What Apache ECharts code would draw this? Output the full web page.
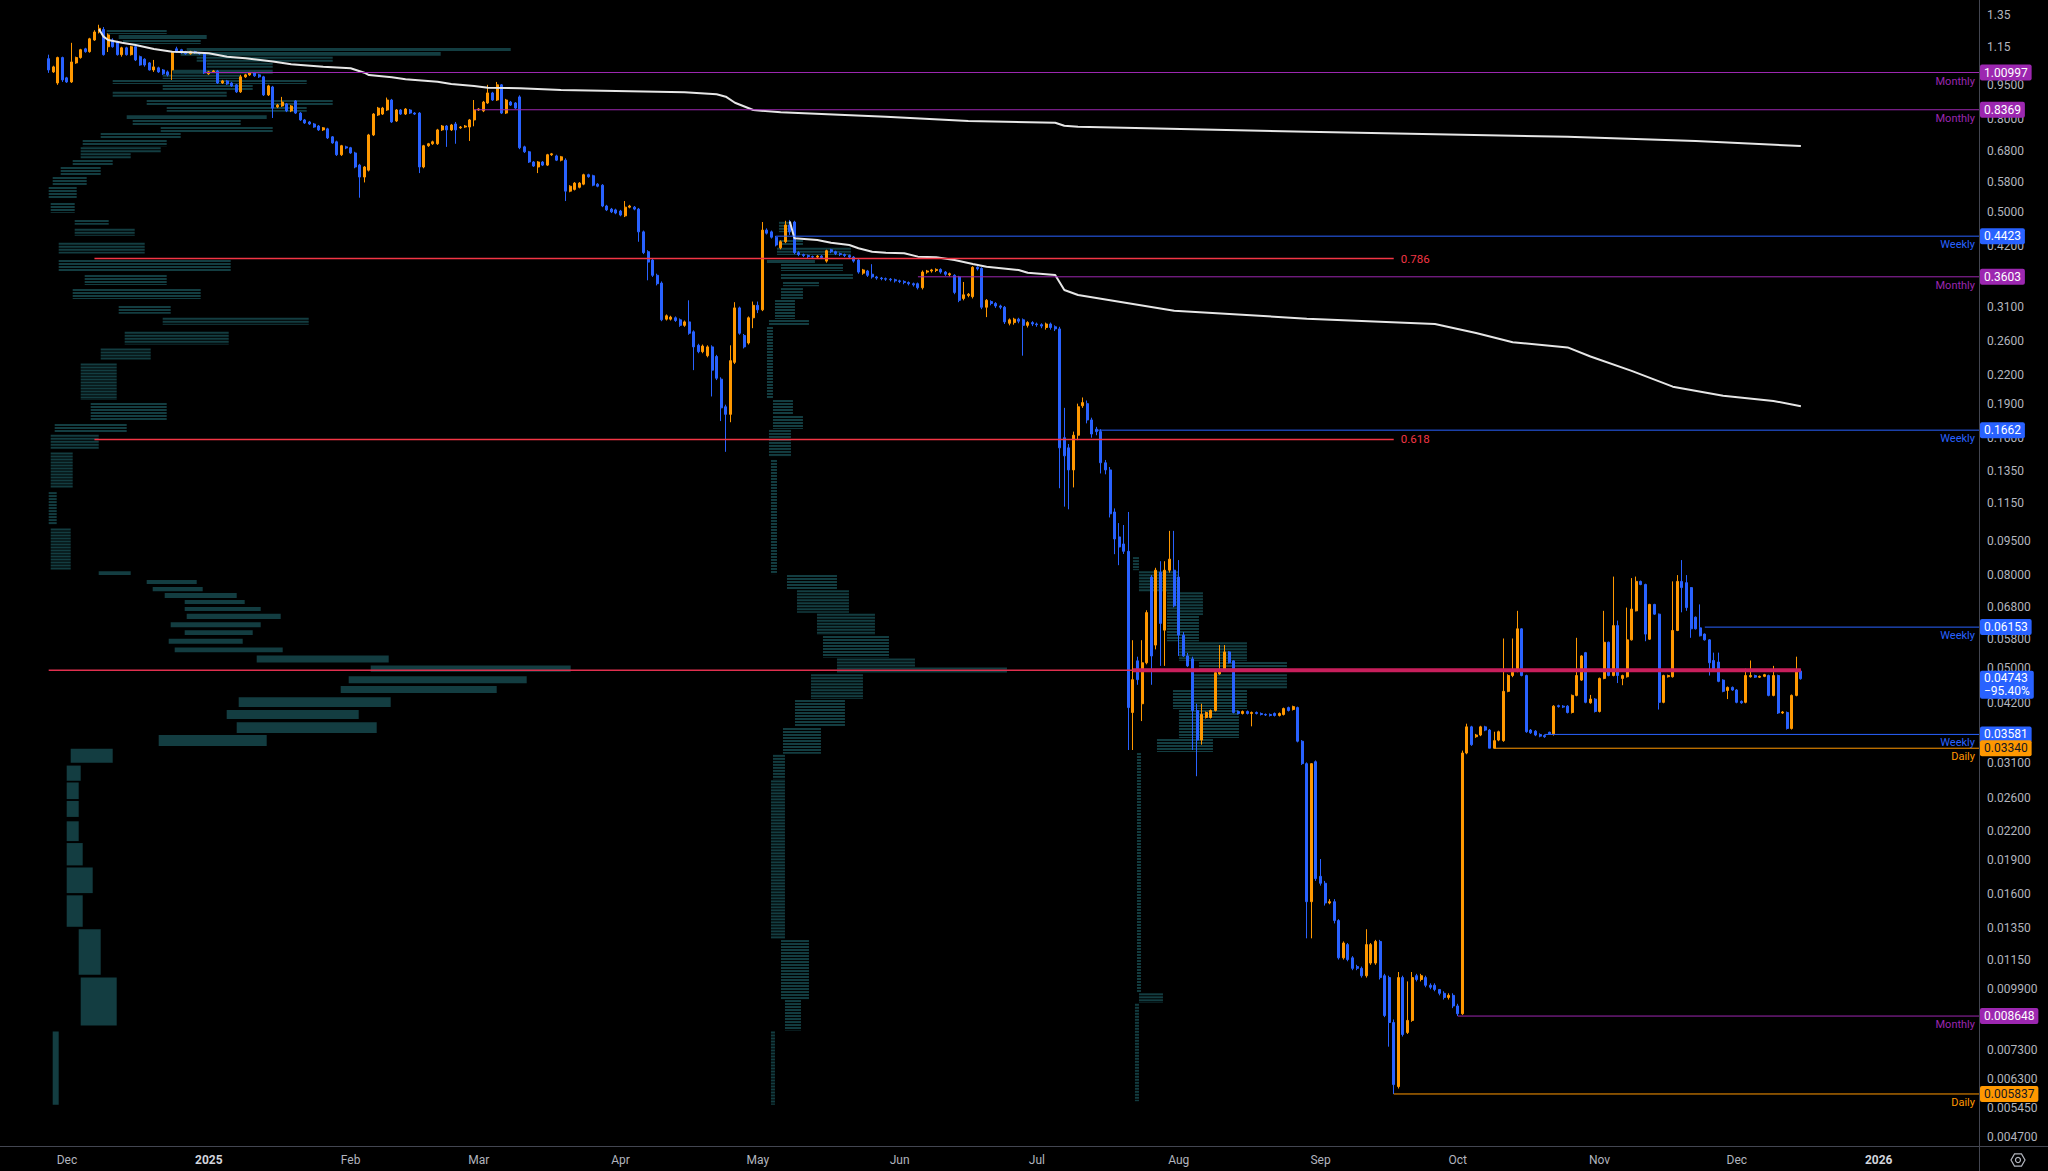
<!DOCTYPE html>
<html><head><meta charset="utf-8">
<script src="https://cdn.jsdelivr.net/npm/echarts@6/dist/echarts.min.js"></script>
<style>html,body{margin:0;padding:0;background:#000;}#chart{width:2048px;height:1171px;}</style>
</head><body><div id="chart"></div>
<script>
// ---------------- DATA ----------------
const FIRST_CANDLE = '2024-11-27';
// daily candles [open, close, low, high]
const ohlc = [
[1.083,1.023,1.008,1.105],[1.013,1.039,1.008,1.045],[0.958,1.089,0.949,1.094],[1.089,0.973,0.963,1.094],[0.983,0.963,0.958,0.988],[0.963,1.065,0.958,1.173],[1.060,1.089,1.055,1.094],[1.089,1.133,1.083,1.138],[1.138,1.122,1.116,1.144],[1.122,1.197,1.116,1.203],
[1.19,1.239,1.185,1.25],[1.239,1.262,1.23,1.285],[1.255,1.105,1.10,1.27],[1.15,1.221,1.12,1.23],[1.19,1.15,1.145,1.20],[1.18,1.105,1.10,1.185],[1.105,1.144,1.094,1.15],[1.144,1.105,1.10,1.15],[1.105,1.150,1.10,1.155],[1.150,1.076,1.07,1.155],
[1.094,1.049,1.045,1.10],[1.08,1.049,1.04,1.085],[1.060,1.023,1.02,1.065],[1.023,1.039,1.013,1.076],[1.034,1.013,1.008,1.04],[1.023,1.003,0.998,1.028],[1.013,0.998,0.99,1.02],[1.023,1.116,0.973,1.122],[1.138,1.122,1.116,1.15],[1.133,1.116,1.11,1.138],
[1.122,1.11,1.105,1.127],[1.11,1.122,1.105,1.127],[1.122,1.116,1.11,1.127],[1.116,1.11,1.105,1.12],[1.116,1.008,1.003,1.12],[1.003,1.013,0.998,1.018],[1.013,1.018,1.008,1.023],[1.018,0.958,0.953,1.023],[0.958,0.968,0.953,0.973],[0.968,0.953,0.949,0.973],
[0.958,0.944,0.939,0.963],[0.949,0.916,0.911,0.953],[0.916,0.988,0.911,0.998],[0.988,0.998,0.983,1.003],[0.998,1.008,0.993,1.013],[1.008,0.993,0.988,1.013],[0.998,0.988,0.983,1.003],[0.988,0.902,0.897,0.993],[0.902,0.944,0.897,0.949],[0.939,0.844,0.803,0.944],
[0.849,0.857,0.844,0.862],[0.853,0.870,0.849,0.893],[0.862,0.832,0.827,0.866],[0.832,0.853,0.827,0.857],[0.875,0.823,0.819,0.879],[0.823,0.795,0.791,0.827],[0.795,0.783,0.779,0.799],[0.787,0.779,0.775,0.791],[0.779,0.767,0.764,0.783],[0.771,0.756,0.752,0.775],
[0.756,0.764,0.752,0.767],[0.760,0.726,0.722,0.764],[0.730,0.708,0.705,0.733],[0.712,0.667,0.663,0.716],[0.667,0.698,0.663,0.701],[0.694,0.69,0.686,0.698],[0.691,0.673,0.67,0.694],[0.673,0.627,0.623,0.677],[0.633,0.596,0.537,0.637],[0.596,0.627,0.58,0.63],
[0.617,0.737,0.613,0.741],[0.737,0.819,0.733,0.823],[0.815,0.844,0.811,0.849],[0.819,0.844,0.815,0.849],[0.836,0.879,0.832,0.89],[0.879,0.787,0.783,0.884],[0.791,0.836,0.787,0.84],[0.836,0.819,0.815,0.84],[0.819,0.840,0.815,0.844],[0.836,0.823,0.819,0.84],
[0.823,0.819,0.815,0.827],[0.823,0.627,0.608,0.827],[0.627,0.698,0.623,0.701],[0.698,0.705,0.694,0.708],[0.705,0.712,0.701,0.716],[0.705,0.756,0.701,0.76],[0.756,0.771,0.752,0.775],[0.771,0.756,0.694,0.775],[0.756,0.775,0.752,0.779],[0.779,0.756,0.705,0.787],
[0.764,0.767,0.76,0.771],[0.767,0.771,0.764,0.775],[0.767,0.795,0.715,0.799],[0.795,0.836,0.77,0.879],[0.836,0.840,0.832,0.844],[0.832,0.870,0.827,0.875],[0.866,0.911,0.862,0.949],[0.911,0.879,0.875,0.916],[0.879,0.949,0.875,0.963],[0.949,0.823,0.819,0.953],
[0.823,0.879,0.819,0.884],[0.870,0.857,0.853,0.875],[0.866,0.844,0.84,0.87],[0.893,0.691,0.686,0.90],[0.694,0.677,0.673,0.698],[0.677,0.643,0.64,0.68],[0.643,0.630,0.627,0.646],[0.627,0.643,0.608,0.646],[0.643,0.633,0.63,0.646],[0.633,0.667,0.63,0.67],
[0.667,0.670,0.663,0.673],[0.663,0.649,0.646,0.667],[0.649,0.66,0.645,0.663],[0.649,0.555,0.528,0.655],[0.555,0.569,0.552,0.572],[0.560,0.578,0.557,0.581],[0.566,0.578,0.563,0.581],[0.575,0.603,0.572,0.606],[0.603,0.597,0.594,0.606],[0.600,0.572,0.569,0.603],
[0.575,0.569,0.566,0.578],[0.572,0.515,0.512,0.575],[0.515,0.505,0.502,0.518],[0.507,0.50,0.497,0.51],[0.505,0.497,0.494,0.508],[0.502,0.492,0.489,0.505],[0.490,0.512,0.487,0.528],[0.512,0.515,0.509,0.518],[0.512,0.507,0.504,0.515],[0.507,0.452,0.430,0.51],
[0.452,0.407,0.404,0.455],[0.409,0.388,0.354,0.412],[0.392,0.363,0.36,0.395],[0.363,0.348,0.345,0.366],[0.349,0.290,0.288,0.352],[0.291,0.296,0.289,0.298],[0.291,0.294,0.289,0.296],[0.293,0.289,0.287,0.295],[0.290,0.282,0.28,0.292],[0.282,0.287,0.28,0.289],
[0.287,0.271,0.269,0.320],[0.273,0.253,0.225,0.275],[0.255,0.247,0.245,0.257],[0.247,0.254,0.245,0.256],[0.242,0.253,0.24,0.255],[0.253,0.225,0.197,0.255],[0.241,0.216,0.214,0.243],[0.215,0.186,0.174,0.217],[0.187,0.180,0.149,0.189],[0.180,0.236,0.173,0.255],
[0.234,0.308,0.232,0.317],[0.308,0.271,0.269,0.31],[0.268,0.253,0.251,0.27],[0.258,0.293,0.256,0.295],[0.293,0.312,0.278,0.318],[0.312,0.305,0.30,0.318],[0.305,0.456,0.303,0.475],[0.456,0.449,0.446,0.46],[0.452,0.440,0.437,0.455],[0.440,0.423,0.42,0.443],
[0.417,0.430,0.414,0.433],[0.430,0.468,0.427,0.478],[0.468,0.452,0.445,0.48],[0.475,0.407,0.404,0.478],[0.407,0.403,0.40,0.41],[0.403,0.401,0.398,0.405],[0.401,0.399,0.396,0.403],[0.399,0.398,0.395,0.401],[0.398,0.400,0.395,0.402],[0.400,0.397,0.394,0.402],
[0.390,0.411,0.387,0.413],[0.413,0.409,0.406,0.415],[0.409,0.405,0.402,0.411],[0.405,0.403,0.40,0.407],[0.403,0.401,0.398,0.405],[0.401,0.398,0.395,0.403],[0.398,0.390,0.387,0.40],[0.392,0.369,0.366,0.394],[0.367,0.373,0.364,0.375],[0.371,0.363,0.36,0.373],
[0.365,0.360,0.357,0.384],[0.360,0.358,0.355,0.362],[0.358,0.357,0.354,0.36],[0.357,0.356,0.353,0.359],[0.356,0.355,0.352,0.358],[0.355,0.353,0.35,0.357],[0.353,0.352,0.349,0.355],[0.352,0.350,0.347,0.354],[0.350,0.348,0.345,0.352],[0.348,0.346,0.343,0.35],
[0.348,0.341,0.338,0.35],[0.341,0.369,0.338,0.372],[0.369,0.371,0.366,0.373],[0.371,0.373,0.368,0.375],[0.372,0.374,0.369,0.376],[0.374,0.369,0.366,0.376],[0.369,0.365,0.362,0.371],[0.364,0.366,0.361,0.368],[0.363,0.333,0.33,0.365],[0.36,0.320,0.317,0.362],
[0.323,0.329,0.32,0.351],[0.328,0.33,0.325,0.332],[0.326,0.378,0.323,0.38],[0.378,0.375,0.372,0.38],[0.376,0.309,0.306,0.378],[0.309,0.320,0.294,0.322],[0.318,0.315,0.312,0.32],[0.315,0.311,0.308,0.317],[0.311,0.309,0.306,0.313],[0.309,0.287,0.284,0.311],
[0.285,0.29,0.282,0.292],[0.286,0.291,0.283,0.293],[0.291,0.288,0.285,0.293],[0.29,0.282,0.242,0.292],[0.282,0.286,0.279,0.288],[0.286,0.284,0.281,0.288],[0.284,0.283,0.28,0.286],[0.283,0.281,0.278,0.285],[0.279,0.284,0.276,0.286],[0.284,0.279,0.276,0.286],
[0.280,0.277,0.274,0.282],[0.277,0.152,0.124,0.280],[0.160,0.146,0.113,0.186],[0.152,0.136,0.1115,0.155],[0.136,0.162,0.1245,0.165],[0.162,0.187,0.158,0.19],[0.188,0.191,0.186,0.196],[0.190,0.175,0.172,0.193],[0.175,0.163,0.16,0.177],[0.167,0.165,0.162,0.169],
[0.165,0.141,0.1336,0.167],[0.141,0.136,0.133,0.143],[0.136,0.109,0.107,0.138],[0.110,0.096,0.0889,0.112],[0.097,0.0922,0.0841,0.104],[0.0936,0.0902,0.089,0.103],[0.0902,0.041,0.0331,0.110],[0.040,0.0472,0.0331,0.0576],[0.0519,0.0472,0.046,0.053],[0.0418,0.0514,0.0383,0.0576],
[0.0514,0.0662,0.051,0.067],[0.0792,0.0532,0.046,0.08],[0.0562,0.082,0.055,0.083],[0.0812,0.0627,0.0506,0.0858],[0.0606,0.082,0.0506,0.0858],[0.082,0.0867,0.081,0.1],[0.082,0.0685,0.068,0.1],[0.0792,0.0591,0.0532,0.0863],[0.0591,0.0532,0.053,0.06],[0.0532,0.0506,0.0503,0.054],
[0.0524,0.0404,0.0331,0.053],[0.0404,0.0348,0.029,0.0418],[0.0348,0.0396,0.034,0.0418],[0.039,0.040,0.0388,0.0402],[0.039,0.0404,0.0388,0.0406],[0.0404,0.0489,0.0402,0.049],[0.0486,0.0494,0.0484,0.0562],[0.0494,0.0543,0.0492,0.0562],[0.0543,0.0514,0.0512,0.0545],[0.0519,0.040,0.0398,0.052],
[0.0402,0.0398,0.0396,0.0404],[0.0398,0.0402,0.0396,0.0404],[0.0402,0.0398,0.0396,0.0404],[0.0398,0.0400,0.0373,0.0402],[0.0400,0.0398,0.0396,0.0402],[0.0398,0.0396,0.0394,0.04],[0.0396,0.0395,0.0393,0.0398],[0.0396,0.0394,0.0392,0.0398],[0.0398,0.0394,0.0392,0.04],[0.0394,0.0398,0.0392,0.04],
[0.0396,0.0408,0.0394,0.041],[0.041,0.0404,0.0402,0.0412],[0.0406,0.0412,0.0404,0.0414],[0.041,0.0346,0.0344,0.0412],[0.0346,0.0309,0.0307,0.0348],[0.0309,0.0154,0.0128,0.0311],[0.0154,0.0309,0.0128,0.031],[0.0312,0.0173,0.0171,0.0314],[0.0175,0.0169,0.0167,0.0191],[0.0169,0.0153,0.0151,0.0171],
[0.0153,0.0154,0.0152,0.0156],[0.0154,0.014,0.0138,0.0156],[0.014,0.0116,0.0115,0.0141],[0.0116,0.0125,0.0115,0.0126],[0.0124,0.0115,0.0114,0.0125],[0.0116,0.011,0.0109,0.0117],[0.0111,0.011,0.0109,0.0112],[0.011,0.0106,0.0105,0.0111],[0.0106,0.0124,0.0105,0.0134],[0.0113,0.0124,0.0112,0.0125],
[0.0113,0.0126,0.0112,0.0127],[0.0126,0.0105,0.0104,0.0127],[0.0106,0.00867,0.0086,0.0107],[0.0105,0.00837,0.00741,0.0106],[0.00837,0.00612,0.005837,0.0085],[0.00606,0.0105,0.006,0.0108],[0.0105,0.00788,0.0078,0.0106],[0.00796,0.00846,0.0079,0.0103],[0.00846,0.0105,0.0084,0.0108],[0.0106,0.0104,0.0103,0.0107],
[0.0104,0.0106,0.0103,0.0107],[0.0105,0.0101,0.01,0.0106],[0.0101,0.0100,0.0099,0.0102],[0.0101,0.00989,0.0098,0.0102],[0.00989,0.0097,0.0096,0.0099],[0.0097,0.0095,0.0094,0.0098],[0.0095,0.0096,0.0094,0.0097],[0.0096,0.0091,0.009,0.0097],[0.0091,0.00875,0.008648,0.0092],[0.00875,0.0326,0.0087,0.033],
[0.0326,0.0372,0.0324,0.0378],[0.0372,0.034,0.0338,0.0374],[0.0354,0.0357,0.0352,0.0359],[0.0357,0.0372,0.0355,0.0374],[0.0372,0.0366,0.0364,0.0374],[0.0366,0.0334,0.0334,0.0368],[0.0334,0.0347,0.0334,0.0363],[0.0348,0.0363,0.0346,0.0365],[0.0347,0.0445,0.0345,0.0581],[0.0445,0.0482,0.0443,0.0485],
[0.0482,0.049,0.0478,0.0581],[0.0493,0.061,0.049,0.0668],[0.061,0.0482,0.048,0.0612],[0.0482,0.0363,0.0361,0.0484],[0.0366,0.0361,0.0359,0.0368],[0.0364,0.0357,0.0355,0.0366],[0.0358,0.0355,0.0353,0.036],[0.0356,0.0354,0.0352,0.0358],[0.0362,0.0359,0.03581,0.0363],[0.0359,0.0413,0.0356,0.0415],
[0.0414,0.0412,0.041,0.0416],[0.0413,0.0411,0.0409,0.0415],[0.0413,0.040,0.0398,0.0415],[0.040,0.0436,0.0398,0.0438],[0.0436,0.0482,0.0434,0.0583],[0.0471,0.0532,0.0469,0.0534],[0.0541,0.0421,0.0419,0.0543],[0.042,0.0428,0.0418,0.0437],[0.0428,0.0402,0.04,0.043],[0.0402,0.0475,0.04,0.0477],
[0.0475,0.057,0.0473,0.0668],[0.057,0.0482,0.048,0.0572],[0.0482,0.062,0.048,0.0794],[0.062,0.0482,0.0464,0.0636],[0.0475,0.0482,0.0459,0.0484],[0.0479,0.0577,0.0477,0.0679],[0.0577,0.0674,0.0575,0.0788],[0.0668,0.0775,0.0666,0.0794],[0.0775,0.0763,0.076,0.0778],[0.0763,0.0594,0.0573,0.0766],
[0.0579,0.069,0.0577,0.0692],[0.069,0.0657,0.0655,0.0692],[0.0657,0.0421,0.0406,0.0659],[0.0421,0.0482,0.0419,0.0484],[0.0479,0.0482,0.0477,0.0484],[0.0479,0.0605,0.0477,0.0775],[0.0605,0.0775,0.0603,0.080],[0.0775,0.0751,0.0663,0.0863],[0.077,0.0679,0.0668,0.080],[0.0751,0.061,0.0583,0.0753],
[0.0647,0.061,0.0608,0.0649],[0.0613,0.0589,0.0587,0.069],[0.0594,0.0577,0.0575,0.0596],[0.0577,0.0514,0.0482,0.0579],[0.052,0.0493,0.0491,0.0541],[0.0516,0.0468,0.0466,0.0541],[0.0471,0.0445,0.0443,0.0473],[0.0447,0.0454,0.0428,0.0456],[0.0454,0.0448,0.0446,0.0456],[0.0448,0.0421,0.0419,0.045],
[0.0423,0.042,0.0418,0.0425],[0.0421,0.0482,0.0419,0.0499],[0.0479,0.0482,0.0477,0.052],[0.0482,0.0478,0.0476,0.0484],[0.0478,0.048,0.0476,0.0482],[0.048,0.0484,0.0478,0.0486],[0.0482,0.0436,0.0434,0.0484],[0.0436,0.0482,0.0434,0.0506],[0.0482,0.0399,0.0397,0.0484],[0.0399,0.0401,0.0397,0.0403],
[0.040,0.0369,0.0367,0.0402],[0.0369,0.0436,0.0367,0.0438],[0.0436,0.0493,0.0434,0.053],[0.0493,0.04743,0.0472,0.0495]
];

// anchored VWAP lines
const vwap1Dates = ['2024-12-08','2024-12-09','2024-12-10','2024-12-13','2024-12-16','2024-12-20','2024-12-24','2024-12-28','2025-01-01','2025-01-05','2025-01-09','2025-01-15','2025-01-19','2025-01-26','2025-02-01','2025-02-04','2025-02-05','2025-02-10','2025-02-13','2025-02-20','2025-02-23','2025-02-28','2025-03-03','2025-03-10','2025-03-19','2025-04-15','2025-04-22','2025-04-24','2025-04-26','2025-04-30','2025-05-06','2025-05-29','2025-06-16','2025-07-05','2025-07-07','2025-07-10','2025-08-29','2025-10-25','2025-11-22','2025-12-15'];
const vwap1Values = [1.256,1.210,1.190,1.174,1.160,1.137,1.122,1.118,1.113,1.094,1.085,1.067,1.053,1.040,1.032,1.009,0.997,0.986,0.976,0.964,0.953,0.943,0.935,0.933,0.925,0.914,0.905,0.894,0.867,0.836,0.826,0.808,0.791,0.784,0.772,0.768,0.749,0.730,0.715,0.697];
const vwap2Dates = ['2025-05-08','2025-05-09','2025-05-14','2025-05-17','2025-05-21','2025-05-23','2025-05-26','2025-05-29','2025-06-02','2025-06-05','2025-06-09','2025-06-13','2025-06-17','2025-06-20','2025-06-27','2025-06-29','2025-07-05','2025-07-07','2025-07-10','2025-07-31','2025-08-29','2025-09-26','2025-10-05','2025-10-13','2025-10-25','2025-10-30','2025-11-08','2025-11-17','2025-11-28','2025-12-09','2025-12-15'];
const vwap2Values = [0.476,0.4375,0.4337,0.4279,0.4231,0.4161,0.4090,0.4070,0.4058,0.3989,0.3977,0.3923,0.3844,0.3792,0.3729,0.3678,0.3636,0.3371,0.3287,0.3035,0.2917,0.2840,0.2713,0.2590,0.2523,0.2410,0.2242,0.2070,0.1978,0.1926,0.1875];

// horizontal key levels (ray from start date to the right edge)
const levelValues = [1.00997, 0.8369, 0.4423, 0.3603, 0.1662, 0.06153, 0.03581, 0.03340, 0.008648, 0.005837];
const levelTags   = ['1.00997','0.8369','0.4423','0.3603','0.1662','0.06153','0.03581','0.03340','0.008648','0.005837'];
const levelStarts = ['2024-12-31','2025-02-28','2025-05-05','2025-06-05','2025-07-14','2025-11-24','2025-10-20','2025-10-09','2025-10-01','2025-09-17'];
const levelKinds  = ['Monthly','Monthly','Weekly','Monthly','Weekly','Weekly','Weekly','Daily','Monthly','Daily'];

// fibonacci retracement lines
const fibValues = [0.395, 0.1586];
const fibNames = ['0.786', '0.618'];
const fibStart = '2024-12-07', fibEnd = '2025-09-17';

// point of control line
const pocValue = 0.0495;
const pocStart = '2024-11-27', pocThickStart = '2025-07-22', pocEnd = '2025-12-15';

// last price
const lastPrice = 0.04743, lastPriceText = '0.04743', lastChangeText = '\u221295.40%';

// volume profiles: [priceTop, priceBottom, volumeStart, volumeEnd]
const profile1Anchor = '2024-11-27';
const profile1Rows = [
[1.2515,1.220,29,59],[1.220,1.190,35,79],[1.190,1.160,37,76],[1.143,1.120,69,231],[1.120,1.093,66,196],[1.093,1.061,74,142],[1.061,1.024,79,112],[1.024,0.999,62,112],[0.999,0.9725,57,96],[0.9725,0.948,32,129],[0.948,0.916,57,102],[0.916,0.888,32,89],[0.879,0.849,49,142],[0.849,0.824,59,129],[0.814,0.7947,39,109],[0.7947,0.767,42,96],[0.767,0.744,56,112],[0.744,0.7184,26,66],[0.7184,0.693,17,59],[0.693,0.672,16,56],[0.672,0.6494,16,41],[0.6494,0.627,12,32],[0.627,0.596,6,26],[0.596,0.567,2,19],[0.567,0.5308,0,14],
[0.523,0.495,1,13],[0.4799,0.466,13,30],[0.459,0.441,13,43],[0.428,0.403,5,48],[0.3922,0.369,5,91],[0.3635,0.344,18,59],[0.339,0.3205,12,76],[0.3111,0.2975,35,61],[0.293,0.2813,57,130],[0.2731,0.2547,38,90],[0.2509,0.2362,26,51],[0.2327,0.1925,16,34],[0.1906,0.1741,21,59],[0.1715,0.1639,3,39],[0.1623,0.1506,1,25],[0.1484,0.1235,1,12],[0.1216,0.1027,0,4],[0.1012,0.0816,1,11],
[0.0816,0.0796,25,41],[0.07802,0.0761,49,74],[0.0753,0.0734,52,77],[0.0731,0.0709,58,94],[0.07053,0.0688,68,98],[0.0681,0.0664,68,106],[0.0658,0.06376,69,116],[0.0631,0.0612,61,106],[0.0606,0.0588,68,102],[0.0580,0.0563,60,97],[0.0555,0.0539,63,117],[0.0533,0.0512,104,170],[0.0507,0.0489,161,261],[0.0480,0.0461,150,239],[0.0457,0.0439,146,224],[0.0432,0.0409,95,171],[0.0405,0.0385,89,155],[0.0381,0.0359,94,164],[0.0357,0.0336,55,109],[0.0333,0.0309,11,32],[0.0306,0.0282,9,16],[0.0281,0.02571,9,15],[0.0256,0.0235,9,15],[0.0231,0.0208,9,15],[0.0207,0.0184,9,17],[0.0183,0.0160,9,22],[0.0159,0.0135,9,17],[0.0134,0.0106,15,26],[0.0105,0.0082,16,34],[0.0080,0.0055,2,5]
];
const profile2Anchor = '2025-05-03';
const profile2Rows = [
[0.4755,0.449,6,12],[0.4338,0.4193,6,18],[0.417,0.400,5,42],[0.3922,0.3845,0,24],[0.3845,0.369,7,38],[0.3655,0.3545,7,43],[0.3510,0.342,8,26],[0.3404,0.3205,7,18],[0.3205,0.2897,4,14],[0.2897,0.2797,1,21],[0.2797,0.1935,0,3],[0.1935,0.1785,3,13],[0.1785,0.1664,3,18],[0.1664,0.1444,1,12],[0.1430,0.0800,2,5],[0.0800,0.0741,10,35],[0.0741,0.0658,15,41],[0.0658,0.0588,25,54],[0.0588,0.0525,28,61],[0.0525,0.0502,35,74],[0.0502,0.0485,35,120],[0.0485,0.0426,22,48],[0.0426,0.0370,14,39],[0.0370,0.0323,8,27],[0.0323,0.0284,3,9],[0.0284,0.01269,2,9],[0.01269,0.009375,7,21],[0.009375,0.0080,9,17],[0.0080,0.0055,2,4]
];
const profile3Anchor = '2025-07-22';
const profile3Rows = [
[0.0876,0.0816,0,3],[0.0816,0.0734,3,23],[0.0734,0.0651,17,35],[0.0651,0.0570,17,33],[0.0570,0.0516,23,57],[0.0516,0.0489,33,77],[0.0485,0.0448,30,77],[0.0448,0.0405,20,57],[0.0405,0.0350,23,53],[0.0350,0.0326,12,40],[0.0326,0.0097,2,4],[0.0097,0.0092,3,15],[0.0092,0.0056,1,3]
];

// axis ticks
const yTickValues = [1.35,1.15,0.95,0.80,0.68,0.58,0.50,0.42,0.31,0.26,0.22,0.19,0.16,0.135,0.115,0.095,0.08,0.068,0.058,0.05,0.042,0.031,0.026,0.022,0.019,0.016,0.0135,0.0115,0.0099,0.0073,0.0063,0.00545,0.0047];
const yTickLabels = ['1.35','1.15','0.9500','0.8000','0.6800','0.5800','0.5000','0.4200','0.3100','0.2600','0.2200','0.1900','0.1600','0.1350','0.1150','0.09500','0.08000','0.06800','0.05800','0.05000','0.04200','0.03100','0.02600','0.02200','0.01900','0.01600','0.01350','0.01150','0.009900','0.007300','0.006300','0.005450','0.004700'];
const xTickDates = ['2024-12-01','2025-01-01','2025-02-01','2025-03-01','2025-04-01','2025-05-01','2025-06-01','2025-07-01','2025-08-01','2025-09-01','2025-10-01','2025-11-01','2025-12-01','2026-01-01'];
const xTickLabels = ['Dec','2025','Feb','Mar','Apr','May','Jun','Jul','Aug','Sep','Oct','Nov','Dec','2026'];

// ---------------- CHART ----------------
const DAY = 864e5;
const T = s => Date.parse(s);
const X_MIN = T('2024-12-01') - 14.645 * DAY;
const X_MAX = T('2024-12-01') + 417.93 * DAY;
const Y_MIN = 0.0044894, Y_MAX = 1.4560;
const FONT = 'Roboto, "Noto Sans", "DejaVu Sans", sans-serif';
const UP = '#ff9800', DOWN = '#2962ff';
const KIND_COLOR = { Monthly: '#9c27b0', Weekly: '#2962ff', Daily: '#ff9800' };
const PX_PER_VOL = 2;
const AXIS_COLOR = '#434651', TEXT_COLOR = '#b2b5be';
const PROFILE_FILL = 'rgba(36,116,124,0.52)';
const CLEAR = 'rgba(0,0,0,0)';

const t0 = T(FIRST_CANDLE);
const candleData = ohlc.map((r, i) => [t0 + i * DAY, r[0], r[1], r[2], r[3]]);

// volume profile as custom series; tall rows of thin-line profiles are drawn as stripes
function profileSeries(name, anchor, rows, solidBelow) {
  return {
    type: 'custom', name, xAxisIndex: 0, yAxisIndex: 0, z: 1, silent: true,
    encode: { x: 0, y: [1, 2] },
    data: rows.map(r => [T(anchor), r[0], r[1], r[2], r[3]]),
    renderItem: (params, api) => {
      const a = api.value(0), top = api.value(1), bot = api.value(2), s = api.value(3), e = api.value(4);
      const p1 = api.coord([a, top]), p2 = api.coord([a, bot]);
      const x = p1[0] + s * PX_PER_VOL, w = Math.max(1, (e - s) * PX_PER_VOL);
      const h = Math.max(1, p2[1] - p1[1] - 1);
      const solid = top <= solidBelow;
      if (solid || h <= 4) {
        return { type: 'rect', shape: { x, y: p1[1], width: w, height: h }, style: { fill: PROFILE_FILL } };
      }
      const children = [];
      for (let yy = p1[1]; yy < p1[1] + h; yy += 3) {
        children.push({ type: 'rect', shape: { x, y: yy, width: w, height: Math.min(2, p1[1] + h - yy) }, style: { fill: PROFILE_FILL } });
      }
      return { type: 'group', children };
    }
  };
}

function ray(name, x0, x1, v, color, width, z) {
  return { type: 'line', name, xAxisIndex: 0, yAxisIndex: 0, z: z || 5, silent: true, clip: false,
    symbol: 'none', showSymbol: false, data: [[x0, v], [x1, v]], lineStyle: { color, width, type: 'solid' } };
}

const raySeries = [];
fibValues.forEach((v, i) => raySeries.push(ray('Fib ' + fibNames[i], T(fibStart), T(fibEnd), v, '#f23645', 1.5, 4)));
raySeries.push(ray('POC', T(pocStart), T(pocEnd), pocValue, '#e0304f', 1.5, 6));
raySeries.push(ray('POC zone', T(pocThickStart), T(pocEnd), pocValue, '#c81f5c', 4, 6));
levelValues.forEach((v, i) => raySeries.push(ray(levelKinds[i] + ' ' + levelTags[i], T(levelStarts[i]), X_MAX, v, KIND_COLOR[levelKinds[i]], 1, 5)));

// labels (markLine labels over invisible lines)
const ml = [];
fibValues.forEach((v, i) => {
  ml.push([{ coord: [T(fibStart), v], lineStyle: { color: CLEAR, width: 0 },
    label: { show: true, position: 'end', distance: 7, formatter: fibNames[i], color: '#f23645', fontSize: 11.5, fontFamily: FONT } },
    { coord: [T(fibEnd), v] }]);
});
levelValues.forEach((v, i) => {
  const c = KIND_COLOR[levelKinds[i]];
  ml.push([{ coord: [X_MAX - 30 * DAY, v], lineStyle: { color: CLEAR, width: 0 },
    label: { show: true, position: 'insideEndBottom', distance: [4, 3], formatter: levelKinds[i], color: c, fontSize: 11, fontFamily: FONT } },
    { coord: [X_MAX, v] }]);
});
levelValues.forEach((v, i) => {
  const c = KIND_COLOR[levelKinds[i]];
  ml.push([{ coord: [X_MAX - DAY, v], lineStyle: { color: CLEAR, width: 0 },
    label: { show: true, position: 'end', distance: 1, formatter: levelTags[i], color: levelKinds[i] === 'Daily' ? '#131722' : '#ffffff',
      backgroundColor: c, padding: [2, 4, 1, 4], borderRadius: 2, fontSize: 12, lineHeight: 13, fontFamily: FONT } },
    { coord: [X_MAX, v] }]);
});
ml.push([{ coord: [X_MAX - DAY, lastPrice], lineStyle: { color: CLEAR, width: 0 },
  label: { show: true, position: 'end', distance: 1, formatter: lastPriceText + '\n' + lastChangeText, color: '#ffffff',
    backgroundColor: '#2962ff', padding: [1, 4, 1, 4], borderRadius: 2, fontSize: 12, lineHeight: 13, offset: [0, 6], fontFamily: FONT } },
  { coord: [X_MAX, lastPrice] }]);

const hex = [];
for (let k = 0; k < 6; k++) { const a = Math.PI / 3 * k; hex.push([2018 + 7 * Math.cos(a), 1160 + 7 * Math.sin(a)]); }

const chart = echarts.init(document.getElementById('chart'), null, { renderer: 'svg', width: 2048, height: 1171 });
chart.setOption({
  backgroundColor: '#000000',
  animation: false,
  textStyle: { fontFamily: FONT },
  grid: { left: 0, right: 69, top: 0, bottom: 25, containLabel: false, outerBoundsMode: 'none' },
  xAxis: [
    { type: 'time', min: X_MIN, max: X_MAX, position: 'bottom',
      axisLine: { show: true, onZero: false, lineStyle: { color: AXIS_COLOR, width: 1 } }, axisTick: { show: false },
      axisLabel: { show: false }, splitLine: { show: false } },
    { type: 'value', min: X_MIN, max: X_MAX, position: 'bottom',
      axisLine: { show: false, onZero: false }, axisTick: { show: false }, splitLine: { show: false },
      axisLabel: { show: true, customValues: xTickDates.map(T), margin: 8, color: TEXT_COLOR, fontSize: 12, fontFamily: FONT,
        formatter: v => { const i = xTickDates.findIndex(d => Math.abs(T(d) - v) < 1000); const s = xTickLabels[i] || ''; return /^\d{4}$/.test(s) ? '{b|' + s + '}' : s; },
        rich: { b: { fontWeight: 'bold', color: '#d1d4dc', fontSize: 12, fontFamily: FONT } } } }
  ],
  yAxis: [
    { type: 'log', logBase: 10, min: Y_MIN, max: Y_MAX, position: 'right',
      axisLine: { show: true, onZero: false, lineStyle: { color: AXIS_COLOR, width: 1 } }, axisTick: { show: false },
      axisLabel: { show: false }, splitLine: { show: false } },
    { type: 'value', min: Math.log10(Y_MIN), max: Math.log10(Y_MAX), position: 'right',
      axisLine: { show: false, onZero: false }, axisTick: { show: false }, splitLine: { show: false },
      axisLabel: { show: true, customValues: yTickValues.map(v => Math.log10(v)), margin: 8, color: TEXT_COLOR, fontSize: 12, fontFamily: FONT, align: 'left',
        formatter: v => { let best = 0, bd = Infinity; yTickValues.forEach((t, i) => { const d = Math.abs(Math.log10(t) - v); if (d < bd) { bd = d; best = i; } }); return yTickLabels[best]; } } }
  ],
  series: [
    profileSeries('Volume profile 1', profile1Anchor, profile1Rows, 0.0816),
    profileSeries('Volume profile 2', profile2Anchor, profile2Rows, -1),
    profileSeries('Volume profile 3', profile3Anchor, profile3Rows, -1),
    { type: 'candlestick', name: 'Price', xAxisIndex: 0, yAxisIndex: 0, z: 3,
      dimensions: ['date', 'open', 'close', 'lowest', 'highest'], encode: { x: 0, y: [1, 2, 3, 4] },
      data: candleData, barWidth: 2.5,
      itemStyle: { color: UP, color0: DOWN, borderColor: UP, borderColor0: DOWN, borderWidth: 1 } },
    { type: 'line', name: 'AVWAP 1', xAxisIndex: 0, yAxisIndex: 0, z: 4, showSymbol: false, symbol: 'none',
      data: vwap1Dates.map((d, i) => [T(d), vwap1Values[i]]), lineStyle: { color: '#e6e6e6', width: 2 } },
    { type: 'line', name: 'AVWAP 2', xAxisIndex: 0, yAxisIndex: 0, z: 4, showSymbol: false, symbol: 'none',
      data: vwap2Dates.map((d, i) => [T(d), vwap2Values[i]]), lineStyle: { color: '#e6e6e6', width: 2 } },
    ...raySeries,
    { type: 'line', name: 'Labels', xAxisIndex: 0, yAxisIndex: 0, z: 8, clip: false, data: [],
      markLine: { silent: true, symbol: ['none', 'none'], animation: false, precision: 6, data: ml } }
  ],
  graphic: [
    { type: 'line', silent: true, shape: { x1: 1979.5, y1: 1146, x2: 1979.5, y2: 1171 }, style: { stroke: AXIS_COLOR, lineWidth: 1 } },
    { type: 'line', silent: true, shape: { x1: 1979, y1: 1146.5, x2: 2048, y2: 1146.5 }, style: { stroke: AXIS_COLOR, lineWidth: 1 } },
    { type: 'polygon', silent: true, shape: { points: hex }, style: { fill: 'none', stroke: TEXT_COLOR, lineWidth: 1.2 } },
    { type: 'circle', silent: true, shape: { cx: 2018, cy: 1160, r: 2.5 }, style: { fill: 'none', stroke: TEXT_COLOR, lineWidth: 1.2 } }
  ]
});
</script>
</body></html>
